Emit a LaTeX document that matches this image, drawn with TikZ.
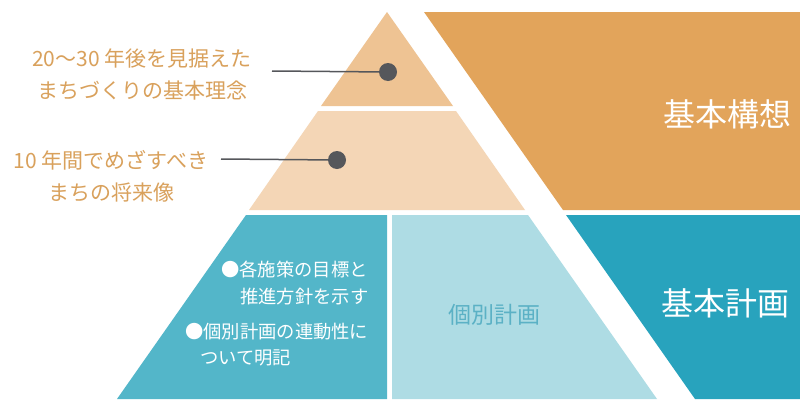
\documentclass[tikz,border=0pt]{standalone}
\usepackage{fontspec}
\newfontfamily\jp{Noto Sans CJK JP}
\definecolor{topband}{HTML}{EEC393}
\definecolor{midband}{HTML}{F4D6B6}
\definecolor{orangebox}{HTML}{E2A45B}
\definecolor{tealleft}{HTML}{53B6C9}
\definecolor{lightblue}{HTML}{AEDCE4}
\definecolor{tealright}{HTML}{28A3BD}
\definecolor{labelorange}{HTML}{D9A15C}
\definecolor{labelteal}{HTML}{5BB1C5}
\definecolor{dotgray}{HTML}{55575B}
\begin{document}
\begin{tikzpicture}[x=1pt,y=-1pt,
  lefttext/.style={text=labelorange, align=center, inner sep=0pt, font={\jp\fontsize{21}{32.5}\selectfont}},
  bandtext/.style={text=white, anchor=west, inner sep=0pt, font={\jp\fontsize{18.3}{26}\selectfont}},
  bigtext/.style={text=white, inner sep=0pt, font={\jp\fontsize{32}{36}\selectfont}},
  dot/.style={circle, fill=dotgray, minimum size=18pt, inner sep=0pt},
  leader/.style={draw=dotgray, line width=1.5pt}]
\useasboundingbox (0,0) rectangle (800,399);
\fill[white] (0,0) rectangle (800,399);
% pyramid
\fill[topband] (387,12) -- (453,106) -- (321,106) -- cycle;
\fill[midband] (318,111) -- (456,111) -- (525,210) -- (249,210) -- cycle;
\fill[tealleft] (246,215) -- (387,215) -- (387,399) -- (117,399) -- cycle;
\fill[lightblue] (392,215) -- (528,215) -- (657,399) -- (392,399) -- cycle;
% right blocks
\fill[orangebox] (424,12) -- (800,12) -- (800,210) -- (563,210) -- cycle;
\fill[tealright] (566,215) -- (800,215) -- (800,399) -- (695,399) -- cycle;
% labels
\node[lefttext] (t1) at (142,74.5) {20～30 年後を見据えた\\まちづくりの基本理念};
\node[lefttext] (t2) at (111,176.5) {10 年間でめざすべき\\まちの将来像};
\node[dot] (d1) at (388,72) {};
\node[dot] (d2) at (337,160) {};
\coordinate (l1) at (272,71);
\coordinate (l2) at (221,159);
\draw[leader] (l1) -- (d1);
\draw[leader] (l2) -- (d2);
\node[bandtext] (b1) at (221,270) {●各施策の目標と};
\node[bandtext] (b2) at (240,297) {推進方針を示す};
\node[bandtext] (b3) at (185,332) {●個別計画の連動性に};
\node[bandtext] (b4) at (200,358) {ついて明記};
\node[text=labelteal, inner sep=0pt, font={\jp\fontsize{23}{26}\selectfont}] (kb) at (494,315) {個別計画};
\node[bigtext] (kk) at (727,114) {基本構想};
\node[bigtext] (kp) at (725,303) {基本計画};
\end{tikzpicture}
\end{document}
